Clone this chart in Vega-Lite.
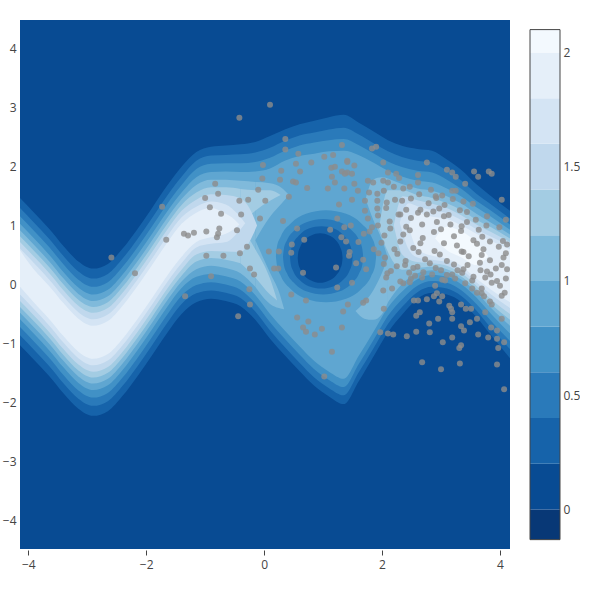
{
"$schema": "https://vega.github.io/schema/vega-lite/v6.json",
"background": "white",
"padding": {"left": 2, "top": 20, "right": 0, "bottom": 20},
"spacing": 20,
"bounds": "flush",
"config": {"view": {"stroke": null}, "axis": {"labelFont": "Open Sans", "labelFontSize": 12, "labelColor": "#444", "grid": false, "domain": false, "title": null}},
"datasets": {
"contour": [
{"k":"a2","g":"m","x":-4.14,"lo":-1.03,"hi":1.47},{"k":"a2","g":"m","x":-3.9,"lo":-1.28,"hi":1.22},{"k":"a2","g":"m","x":-3.65,"lo":-1.55,"hi":0.95},{"k":"a2","g":"m","x":-3.4,"lo":-1.85,"hi":0.65},{"k":"a2","g":"m","x":-3.15,"lo":-2.11,"hi":0.39},{"k":"a2","g":"m","x":-2.9,"lo":-2.23,"hi":0.27},{"k":"a2","g":"m","x":-2.65,"lo":-2.15,"hi":0.35},{"k":"a2","g":"m","x":-2.4,"lo":-1.89,"hi":0.61},{"k":"a2","g":"m","x":-2.15,"lo":-1.56,"hi":0.94},{"k":"a2","g":"m","x":-1.9,"lo":-1.2,"hi":1.3},{"k":"a2","g":"m","x":-1.65,"lo":-0.83,"hi":1.67},{"k":"a2","g":"m","x":-1.4,"lo":-0.5,"hi":2.0},{"k":"a2","g":"m","x":-1.15,"lo":-0.3,"hi":2.25},{"k":"a2","g":"m","x":-0.9,"lo":-0.24,"hi":2.34},{"k":"a2","g":"m","x":-0.65,"lo":-0.28,"hi":2.36},{"k":"a2","g":"m","x":-0.4,"lo":-0.37,"hi":2.38},{"k":"a2","g":"m","x":-0.15,"lo":-0.6,"hi":2.42},{"k":"a2","g":"m","x":0.1,"lo":-0.92,"hi":2.52},{"k":"a2","g":"m","x":0.35,"lo":-1.2,"hi":2.63},{"k":"a2","g":"m","x":0.6,"lo":-1.47,"hi":2.72},{"k":"a2","g":"m","x":0.85,"lo":-1.72,"hi":2.78},{"k":"a2","g":"m","x":1.1,"lo":-1.9,"hi":2.84},{"k":"a2","g":"m","x":1.35,"lo":-2.03,"hi":2.88},{"k":"a2","g":"m","x":1.6,"lo":-1.65,"hi":2.75},{"k":"a2","g":"m","x":1.85,"lo":-1.23,"hi":2.6},{"k":"a2","g":"m","x":2.1,"lo":-0.81,"hi":2.45},{"k":"a2","g":"m","x":2.35,"lo":-0.5,"hi":2.35},{"k":"a2","g":"m","x":2.6,"lo":-0.24,"hi":2.3},{"k":"a2","g":"m","x":2.85,"lo":-0.14,"hi":2.27},{"k":"a2","g":"m","x":3.1,"lo":-0.17,"hi":2.12},{"k":"a2","g":"m","x":3.35,"lo":-0.3,"hi":1.94},{"k":"a2","g":"m","x":3.6,"lo":-0.55,"hi":1.7},{"k":"a2","g":"m","x":3.85,"lo":-0.86,"hi":1.5},{"k":"a2","g":"m","x":4.17,"lo":-1.25,"hi":1.25},
{"k":"a4","g":"m","x":-4.14,"lo":-0.86,"hi":1.3},{"k":"a4","g":"m","x":-3.9,"lo":-1.11,"hi":1.05},{"k":"a4","g":"m","x":-3.65,"lo":-1.38,"hi":0.78},{"k":"a4","g":"m","x":-3.4,"lo":-1.68,"hi":0.48},{"k":"a4","g":"m","x":-3.15,"lo":-1.94,"hi":0.22},{"k":"a4","g":"m","x":-2.9,"lo":-2.06,"hi":0.1},{"k":"a4","g":"m","x":-2.65,"lo":-1.98,"hi":0.18},{"k":"a4","g":"m","x":-2.4,"lo":-1.72,"hi":0.44},{"k":"a4","g":"m","x":-2.15,"lo":-1.39,"hi":0.77},{"k":"a4","g":"m","x":-1.9,"lo":-1.03,"hi":1.13},{"k":"a4","g":"m","x":-1.65,"lo":-0.66,"hi":1.5},{"k":"a4","g":"m","x":-1.4,"lo":-0.33,"hi":1.83},{"k":"a4","g":"m","x":-1.15,"lo":-0.15,"hi":2.1},{"k":"a4","g":"m","x":-0.9,"lo":-0.1,"hi":2.19},{"k":"a4","g":"m","x":-0.65,"lo":-0.14,"hi":2.2},{"k":"a4","g":"m","x":-0.4,"lo":-0.23,"hi":2.21},{"k":"a4","g":"m","x":-0.15,"lo":-0.46,"hi":2.24},{"k":"a4","g":"m","x":0.1,"lo":-0.78,"hi":2.32},{"k":"a4","g":"m","x":0.35,"lo":-1.06,"hi":2.44},{"k":"a4","g":"m","x":0.6,"lo":-1.33,"hi":2.53},{"k":"a4","g":"m","x":0.85,"lo":-1.58,"hi":2.58},{"k":"a4","g":"m","x":1.1,"lo":-1.76,"hi":2.63},{"k":"a4","g":"m","x":1.35,"lo":-1.88,"hi":2.66},{"k":"a4","g":"m","x":1.6,"lo":-1.5,"hi":2.55},{"k":"a4","g":"m","x":1.85,"lo":-1.09,"hi":2.4},{"k":"a4","g":"m","x":2.1,"lo":-0.67,"hi":2.26},{"k":"a4","g":"m","x":2.35,"lo":-0.37,"hi":2.16},{"k":"a4","g":"m","x":2.6,"lo":-0.13,"hi":2.1},{"k":"a4","g":"m","x":2.85,"lo":-0.04,"hi":2.07},{"k":"a4","g":"m","x":3.1,"lo":-0.07,"hi":1.93},{"k":"a4","g":"m","x":3.35,"lo":-0.2,"hi":1.76},{"k":"a4","g":"m","x":3.6,"lo":-0.44,"hi":1.54},{"k":"a4","g":"m","x":3.85,"lo":-0.74,"hi":1.36},{"k":"a4","g":"m","x":4.17,"lo":-1.1,"hi":1.12},
{"k":"a6","g":"m","x":-4.14,"lo":-0.72,"hi":1.16},{"k":"a6","g":"m","x":-3.9,"lo":-0.97,"hi":0.91},{"k":"a6","g":"m","x":-3.65,"lo":-1.24,"hi":0.64},{"k":"a6","g":"m","x":-3.4,"lo":-1.54,"hi":0.34},{"k":"a6","g":"m","x":-3.15,"lo":-1.8,"hi":0.08},{"k":"a6","g":"m","x":-2.9,"lo":-1.92,"hi":-0.04},{"k":"a6","g":"m","x":-2.65,"lo":-1.84,"hi":0.04},{"k":"a6","g":"m","x":-2.4,"lo":-1.58,"hi":0.3},{"k":"a6","g":"m","x":-2.15,"lo":-1.25,"hi":0.63},{"k":"a6","g":"m","x":-1.9,"lo":-0.89,"hi":0.99},{"k":"a6","g":"m","x":-1.65,"lo":-0.52,"hi":1.36},{"k":"a6","g":"m","x":-1.4,"lo":-0.19,"hi":1.69},{"k":"a6","g":"m","x":-1.15,"lo":-0.01,"hi":1.96},{"k":"a6","g":"m","x":-0.9,"lo":0.04,"hi":2.05},{"k":"a6","g":"m","x":-0.65,"lo":0.0,"hi":2.06},{"k":"a6","g":"m","x":-0.4,"lo":-0.09,"hi":2.06},{"k":"a6","g":"m","x":-0.15,"lo":-0.32,"hi":2.08},{"k":"a6","g":"m","x":0.1,"lo":-0.64,"hi":2.15},{"k":"a6","g":"m","x":0.35,"lo":-0.92,"hi":2.27},{"k":"a6","g":"m","x":0.6,"lo":-1.19,"hi":2.36},{"k":"a6","g":"m","x":0.85,"lo":-1.44,"hi":2.41},{"k":"a6","g":"m","x":1.1,"lo":-1.62,"hi":2.45},{"k":"a6","g":"m","x":1.35,"lo":-1.74,"hi":2.47},{"k":"a6","g":"m","x":1.6,"lo":-1.36,"hi":2.37},{"k":"a6","g":"m","x":1.85,"lo":-0.95,"hi":2.23},{"k":"a6","g":"m","x":2.1,"lo":-0.53,"hi":2.09},{"k":"a6","g":"m","x":2.35,"lo":-0.24,"hi":1.99},{"k":"a6","g":"m","x":2.6,"lo":-0.02,"hi":1.93},{"k":"a6","g":"m","x":2.85,"lo":0.06,"hi":1.9},{"k":"a6","g":"m","x":3.1,"lo":0.03,"hi":1.78},{"k":"a6","g":"m","x":3.35,"lo":-0.1,"hi":1.62},{"k":"a6","g":"m","x":3.6,"lo":-0.33,"hi":1.42},{"k":"a6","g":"m","x":3.85,"lo":-0.62,"hi":1.25},{"k":"a6","g":"m","x":4.17,"lo":-0.96,"hi":1.02},
{"k":"a8","g":"m","x":-4.14,"lo":-0.59,"hi":1.03},{"k":"a8","g":"m","x":-3.9,"lo":-0.84,"hi":0.78},{"k":"a8","g":"m","x":-3.65,"lo":-1.11,"hi":0.51},{"k":"a8","g":"m","x":-3.4,"lo":-1.41,"hi":0.21},{"k":"a8","g":"m","x":-3.15,"lo":-1.67,"hi":-0.05},{"k":"a8","g":"m","x":-2.9,"lo":-1.79,"hi":-0.17},{"k":"a8","g":"m","x":-2.65,"lo":-1.71,"hi":-0.09},{"k":"a8","g":"m","x":-2.4,"lo":-1.45,"hi":0.17},{"k":"a8","g":"m","x":-2.15,"lo":-1.12,"hi":0.5},{"k":"a8","g":"m","x":-1.9,"lo":-0.76,"hi":0.86},{"k":"a8","g":"m","x":-1.65,"lo":-0.39,"hi":1.23},{"k":"a8","g":"m","x":-1.4,"lo":-0.06,"hi":1.56},{"k":"a8","g":"m","x":-1.15,"lo":0.13,"hi":1.82},{"k":"a8","g":"m","x":-0.9,"lo":0.18,"hi":1.91},{"k":"a8","g":"m","x":-0.65,"lo":0.14,"hi":1.92},{"k":"a8","g":"m","x":-0.4,"lo":0.05,"hi":1.91},{"k":"a8","g":"m","x":-0.15,"lo":-0.18,"hi":1.92},{"k":"a8","g":"m","x":0.1,"lo":-0.5,"hi":1.97},{"k":"a8","g":"m","x":0.35,"lo":-0.78,"hi":2.1},{"k":"a8","g":"m","x":0.6,"lo":-1.05,"hi":2.18},{"k":"a8","g":"m","x":0.85,"lo":-1.3,"hi":2.22},{"k":"a8","g":"m","x":1.1,"lo":-1.48,"hi":2.26},{"k":"a8","g":"m","x":1.35,"lo":-1.6,"hi":2.27},{"k":"a8","g":"m","x":1.6,"lo":-1.22,"hi":2.2},{"k":"a8","g":"m","x":1.85,"lo":-0.81,"hi":2.07},{"k":"a8","g":"m","x":2.1,"lo":-0.39,"hi":1.93},{"k":"a8","g":"m","x":2.35,"lo":-0.11,"hi":1.83},{"k":"a8","g":"m","x":2.6,"lo":0.09,"hi":1.76},{"k":"a8","g":"m","x":2.85,"lo":0.16,"hi":1.73},{"k":"a8","g":"m","x":3.1,"lo":0.13,"hi":1.63},{"k":"a8","g":"m","x":3.35,"lo":0.0,"hi":1.49},{"k":"a8","g":"m","x":3.6,"lo":-0.22,"hi":1.31},{"k":"a8","g":"m","x":3.85,"lo":-0.5,"hi":1.15},{"k":"a8","g":"m","x":4.17,"lo":-0.83,"hi":0.93},
{"k":"a10","g":"m","x":-4.14,"lo":-0.48,"hi":0.92},{"k":"a10","g":"m","x":-3.9,"lo":-0.73,"hi":0.67},{"k":"a10","g":"m","x":-3.65,"lo":-1.0,"hi":0.4},{"k":"a10","g":"m","x":-3.4,"lo":-1.3,"hi":0.1},{"k":"a10","g":"m","x":-3.15,"lo":-1.56,"hi":-0.16},{"k":"a10","g":"m","x":-2.9,"lo":-1.68,"hi":-0.28},{"k":"a10","g":"m","x":-2.65,"lo":-1.6,"hi":-0.2},{"k":"a10","g":"m","x":-2.4,"lo":-1.34,"hi":0.06},{"k":"a10","g":"m","x":-2.15,"lo":-1.01,"hi":0.39},{"k":"a10","g":"m","x":-1.9,"lo":-0.65,"hi":0.75},{"k":"a10","g":"m","x":-1.65,"lo":-0.28,"hi":1.12},{"k":"a10","g":"m","x":-1.4,"lo":0.05,"hi":1.45},{"k":"a10","g":"m","x":-1.15,"lo":0.26,"hi":1.69},{"k":"a10","g":"m","x":-0.9,"lo":0.32,"hi":1.78},{"k":"a10","g":"m","x":-0.65,"lo":0.28,"hi":1.78},{"k":"a10","g":"m","x":-0.4,"lo":0.19,"hi":1.76},{"k":"a10","g":"m","x":-0.15,"lo":-0.04,"hi":1.74},
{"k":"a10","g":"a","x":-0.15,"lo":0.75,"hi":1.74},{"k":"a10","g":"a","x":0.1,"lo":1.15,"hi":1.72},{"k":"a10","g":"a","x":0.3,"lo":1.38,"hi":1.64},{"k":"a10","g":"a","x":0.42,"lo":1.52,"hi":1.52},
{"k":"a10","g":"t","x":-0.15,"lo":-0.04,"hi":0.75},{"k":"a10","g":"t","x":0.1,"lo":-0.33,"hi":0.2},{"k":"a10","g":"t","x":0.25,"lo":-0.4,"hi":-0.12},{"k":"a10","g":"t","x":0.34,"lo":-0.42,"hi":-0.42},
{"k":"a10","g":"rf","x":1.55,"lo":-0.45,"hi":-0.45},{"k":"a10","g":"rf","x":1.7,"lo":-0.58,"hi":-0.3},{"k":"a10","g":"rf","x":1.85,"lo":-0.6,"hi":-0.1},{"k":"a10","g":"rf","x":2.0,"lo":-0.5,"hi":0.2},{"k":"a10","g":"rf","x":2.1,"lo":-0.3,"hi":0.45},
{"k":"a10","g":"ra","x":1.72,"lo":1.45,"hi":1.45},{"k":"a10","g":"ra","x":1.85,"lo":1.1,"hi":1.78},{"k":"a10","g":"ra","x":2.0,"lo":0.75,"hi":1.82},{"k":"a10","g":"ra","x":2.1,"lo":0.45,"hi":1.8},
{"k":"a10","g":"r","x":2.1,"lo":-0.3,"hi":1.8},{"k":"a10","g":"r","x":2.35,"lo":0.02,"hi":1.7},{"k":"a10","g":"r","x":2.6,"lo":0.19,"hi":1.63},{"k":"a10","g":"r","x":2.85,"lo":0.24,"hi":1.59},{"k":"a10","g":"r","x":3.1,"lo":0.21,"hi":1.5},{"k":"a10","g":"r","x":3.35,"lo":0.08,"hi":1.37},{"k":"a10","g":"r","x":3.6,"lo":-0.13,"hi":1.2},{"k":"a10","g":"r","x":3.85,"lo":-0.4,"hi":1.05},{"k":"a10","g":"r","x":4.17,"lo":-0.7,"hi":0.85},
{"k":"a12","g":"m","x":-4.14,"lo":-0.38,"hi":0.82},{"k":"a12","g":"m","x":-3.9,"lo":-0.63,"hi":0.57},{"k":"a12","g":"m","x":-3.65,"lo":-0.9,"hi":0.3},{"k":"a12","g":"m","x":-3.4,"lo":-1.2,"hi":0.0},{"k":"a12","g":"m","x":-3.15,"lo":-1.46,"hi":-0.26},{"k":"a12","g":"m","x":-2.9,"lo":-1.58,"hi":-0.38},{"k":"a12","g":"m","x":-2.65,"lo":-1.5,"hi":-0.3},{"k":"a12","g":"m","x":-2.4,"lo":-1.24,"hi":-0.04},{"k":"a12","g":"m","x":-2.15,"lo":-0.91,"hi":0.29},{"k":"a12","g":"m","x":-1.9,"lo":-0.55,"hi":0.65},{"k":"a12","g":"m","x":-1.65,"lo":-0.18,"hi":1.02},{"k":"a12","g":"m","x":-1.4,"lo":0.15,"hi":1.35},{"k":"a12","g":"m","x":-1.15,"lo":0.39,"hi":1.56},{"k":"a12","g":"m","x":-0.9,"lo":0.45,"hi":1.65},{"k":"a12","g":"m","x":-0.65,"lo":0.42,"hi":1.65},{"k":"a12","g":"m","x":-0.4,"lo":0.36,"hi":1.62},
{"k":"a12","g":"a","x":-0.4,"lo":1.0,"hi":1.62},{"k":"a12","g":"a","x":-0.15,"lo":1.25,"hi":1.6},{"k":"a12","g":"a","x":0.1,"lo":1.42,"hi":1.6},{"k":"a12","g":"a","x":0.28,"lo":1.52,"hi":1.52},
{"k":"a12","g":"t","x":-0.4,"lo":0.36,"hi":1.0},{"k":"a12","g":"t","x":-0.15,"lo":0.12,"hi":0.6},{"k":"a12","g":"t","x":0.1,"lo":-0.17,"hi":0.1},{"k":"a12","g":"t","x":0.22,"lo":-0.27,"hi":-0.27},
{"k":"a12","g":"r","x":1.95,"lo":0.95,"hi":0.95},{"k":"a12","g":"r","x":2.1,"lo":0.55,"hi":1.6},{"k":"a12","g":"r","x":2.35,"lo":0.25,"hi":1.6},{"k":"a12","g":"r","x":2.6,"lo":0.28,"hi":1.52},{"k":"a12","g":"r","x":2.85,"lo":0.3,"hi":1.47},{"k":"a12","g":"r","x":3.1,"lo":0.26,"hi":1.38},{"k":"a12","g":"r","x":3.35,"lo":0.13,"hi":1.26},{"k":"a12","g":"r","x":3.6,"lo":-0.08,"hi":1.1},{"k":"a12","g":"r","x":3.85,"lo":-0.33,"hi":0.97},{"k":"a12","g":"r","x":4.17,"lo":-0.6,"hi":0.78},
{"k":"a14","g":"m","x":-4.14,"lo":-0.28,"hi":0.72},{"k":"a14","g":"m","x":-3.9,"lo":-0.53,"hi":0.47},{"k":"a14","g":"m","x":-3.65,"lo":-0.8,"hi":0.2},{"k":"a14","g":"m","x":-3.4,"lo":-1.1,"hi":-0.1},{"k":"a14","g":"m","x":-3.15,"lo":-1.36,"hi":-0.36},{"k":"a14","g":"m","x":-2.9,"lo":-1.48,"hi":-0.48},{"k":"a14","g":"m","x":-2.65,"lo":-1.4,"hi":-0.4},{"k":"a14","g":"m","x":-2.4,"lo":-1.14,"hi":-0.14},{"k":"a14","g":"m","x":-2.15,"lo":-0.81,"hi":0.19},{"k":"a14","g":"m","x":-1.9,"lo":-0.45,"hi":0.55},{"k":"a14","g":"m","x":-1.65,"lo":-0.08,"hi":0.92},{"k":"a14","g":"m","x":-1.4,"lo":0.25,"hi":1.25},{"k":"a14","g":"m","x":-1.15,"lo":0.51,"hi":1.44},{"k":"a14","g":"m","x":-0.9,"lo":0.57,"hi":1.53},{"k":"a14","g":"m","x":-0.65,"lo":0.56,"hi":1.52},{"k":"a14","g":"m","x":-0.4,"lo":0.55,"hi":1.46},{"k":"a14","g":"m","x":-0.25,"lo":0.72,"hi":1.3},{"k":"a14","g":"m","x":-0.12,"lo":1.0,"hi":1.0},
{"k":"a14","g":"r","x":2.2,"lo":1.0,"hi":1.0},{"k":"a14","g":"r","x":2.35,"lo":0.5,"hi":1.5},{"k":"a14","g":"r","x":2.6,"lo":0.38,"hi":1.43},{"k":"a14","g":"r","x":2.85,"lo":0.36,"hi":1.37},{"k":"a14","g":"r","x":3.1,"lo":0.32,"hi":1.3},{"k":"a14","g":"r","x":3.35,"lo":0.19,"hi":1.17},{"k":"a14","g":"r","x":3.6,"lo":-0.02,"hi":1.02},{"k":"a14","g":"r","x":3.85,"lo":-0.25,"hi":0.89},{"k":"a14","g":"r","x":4.17,"lo":-0.5,"hi":0.72},
{"k":"a16","g":"m","x":-4.14,"lo":-0.17,"hi":0.61},{"k":"a16","g":"m","x":-3.9,"lo":-0.42,"hi":0.36},{"k":"a16","g":"m","x":-3.65,"lo":-0.69,"hi":0.09},{"k":"a16","g":"m","x":-3.4,"lo":-0.99,"hi":-0.21},{"k":"a16","g":"m","x":-3.15,"lo":-1.25,"hi":-0.47},{"k":"a16","g":"m","x":-2.9,"lo":-1.37,"hi":-0.59},{"k":"a16","g":"m","x":-2.65,"lo":-1.29,"hi":-0.51},{"k":"a16","g":"m","x":-2.4,"lo":-1.03,"hi":-0.25},{"k":"a16","g":"m","x":-2.15,"lo":-0.7,"hi":0.08},{"k":"a16","g":"m","x":-1.9,"lo":-0.34,"hi":0.44},{"k":"a16","g":"m","x":-1.65,"lo":0.03,"hi":0.81},{"k":"a16","g":"m","x":-1.4,"lo":0.36,"hi":1.14},{"k":"a16","g":"m","x":-1.15,"lo":0.63,"hi":1.32},{"k":"a16","g":"m","x":-0.9,"lo":0.69,"hi":1.41},{"k":"a16","g":"m","x":-0.65,"lo":0.72,"hi":1.36},{"k":"a16","g":"m","x":-0.45,"lo":0.88,"hi":1.2},{"k":"a16","g":"m","x":-0.32,"lo":1.04,"hi":1.04},
{"k":"a16","g":"r","x":2.3,"lo":1.05,"hi":1.05},{"k":"a16","g":"r","x":2.45,"lo":0.6,"hi":1.38},{"k":"a16","g":"r","x":2.6,"lo":0.46,"hi":1.33},{"k":"a16","g":"r","x":2.85,"lo":0.42,"hi":1.26},{"k":"a16","g":"r","x":3.1,"lo":0.38,"hi":1.21},{"k":"a16","g":"r","x":3.35,"lo":0.25,"hi":1.09},{"k":"a16","g":"r","x":3.6,"lo":0.04,"hi":0.94},{"k":"a16","g":"r","x":3.85,"lo":-0.17,"hi":0.81},{"k":"a16","g":"r","x":4.17,"lo":-0.4,"hi":0.66},
{"k":"a18","g":"m","x":-4.14,"lo":-0.04,"hi":0.58},{"k":"a18","g":"m","x":-3.9,"lo":-0.31,"hi":0.25},{"k":"a18","g":"m","x":-3.65,"lo":-0.58,"hi":-0.02},{"k":"a18","g":"m","x":-3.4,"lo":-0.88,"hi":-0.32},{"k":"a18","g":"m","x":-3.15,"lo":-1.14,"hi":-0.58},{"k":"a18","g":"m","x":-2.9,"lo":-1.26,"hi":-0.7},{"k":"a18","g":"m","x":-2.65,"lo":-1.18,"hi":-0.62},{"k":"a18","g":"m","x":-2.4,"lo":-0.92,"hi":-0.36},{"k":"a18","g":"m","x":-2.15,"lo":-0.59,"hi":-0.03},{"k":"a18","g":"m","x":-1.9,"lo":-0.23,"hi":0.33},{"k":"a18","g":"m","x":-1.65,"lo":0.14,"hi":0.7},{"k":"a18","g":"m","x":-1.4,"lo":0.47,"hi":1.03},{"k":"a18","g":"m","x":-1.15,"lo":0.72,"hi":1.22},{"k":"a18","g":"m","x":-0.9,"lo":0.8,"hi":1.3},{"k":"a18","g":"m","x":-0.65,"lo":0.86,"hi":1.2},{"k":"a18","g":"m","x":-0.5,"lo":0.95,"hi":1.1},{"k":"a18","g":"m","x":-0.42,"lo":1.02,"hi":1.02},
{"k":"a18","g":"r","x":2.45,"lo":1.0,"hi":1.0},{"k":"a18","g":"r","x":2.6,"lo":0.6,"hi":1.22},{"k":"a18","g":"r","x":2.85,"lo":0.49,"hi":1.15},{"k":"a18","g":"r","x":3.1,"lo":0.44,"hi":1.11},{"k":"a18","g":"r","x":3.35,"lo":0.31,"hi":1.0},{"k":"a18","g":"r","x":3.6,"lo":0.1,"hi":0.86},{"k":"a18","g":"r","x":3.85,"lo":-0.09,"hi":0.74},{"k":"a18","g":"r","x":4.17,"lo":-0.3,"hi":0.6},
{"k":"a20","g":"r","x":2.9,"lo":0.78,"hi":0.78},{"k":"a20","g":"r","x":3.1,"lo":0.58,"hi":0.98},{"k":"a20","g":"r","x":3.35,"lo":0.46,"hi":0.9},{"k":"a20","g":"r","x":3.6,"lo":0.33,"hi":0.72},{"k":"a20","g":"r","x":3.8,"lo":0.48,"hi":0.48},
{"k":"h8","g":"m","x":0.2,"lo":0.48,"hi":0.48},{"k":"h8","g":"m","x":0.217,"lo":0.325,"hi":0.635},{"k":"h8","g":"m","x":0.285,"lo":0.14,"hi":0.82},{"k":"h8","g":"m","x":0.455,"lo":-0.08,"hi":1.04},{"k":"h8","g":"m","x":0.71,"lo":-0.24,"hi":1.2},{"k":"h8","g":"m","x":1.05,"lo":-0.3,"hi":1.26},{"k":"h8","g":"m","x":1.39,"lo":-0.24,"hi":1.2},{"k":"h8","g":"m","x":1.645,"lo":-0.08,"hi":1.04},{"k":"h8","g":"m","x":1.815,"lo":0.14,"hi":0.82},{"k":"h8","g":"m","x":1.883,"lo":0.325,"hi":0.635},{"k":"h8","g":"m","x":1.9,"lo":0.48,"hi":0.48},
{"k":"h6","g":"m","x":0.32,"lo":0.47,"hi":0.47},{"k":"h6","g":"m","x":0.334,"lo":0.34,"hi":0.6},{"k":"h6","g":"m","x":0.388,"lo":0.19,"hi":0.75},{"k":"h6","g":"m","x":0.524,"lo":0.01,"hi":0.93},{"k":"h6","g":"m","x":0.728,"lo":-0.12,"hi":1.06},{"k":"h6","g":"m","x":1.0,"lo":-0.17,"hi":1.11},{"k":"h6","g":"m","x":1.272,"lo":-0.12,"hi":1.06},{"k":"h6","g":"m","x":1.476,"lo":0.01,"hi":0.93},{"k":"h6","g":"m","x":1.612,"lo":0.19,"hi":0.75},{"k":"h6","g":"m","x":1.666,"lo":0.34,"hi":0.6},{"k":"h6","g":"m","x":1.68,"lo":0.47,"hi":0.47},
{"k":"h4","g":"m","x":0.44,"lo":0.46,"hi":0.46},{"k":"h4","g":"m","x":0.451,"lo":0.355,"hi":0.565},{"k":"h4","g":"m","x":0.493,"lo":0.23,"hi":0.69},{"k":"h4","g":"m","x":0.599,"lo":0.08,"hi":0.84},{"k":"h4","g":"m","x":0.758,"lo":-0.03,"hi":0.95},{"k":"h4","g":"m","x":0.97,"lo":-0.07,"hi":0.99},{"k":"h4","g":"m","x":1.182,"lo":-0.03,"hi":0.95},{"k":"h4","g":"m","x":1.341,"lo":0.08,"hi":0.84},{"k":"h4","g":"m","x":1.447,"lo":0.23,"hi":0.69},{"k":"h4","g":"m","x":1.489,"lo":0.355,"hi":0.565},{"k":"h4","g":"m","x":1.5,"lo":0.46,"hi":0.46},
{"k":"h2","g":"m","x":0.57,"lo":0.45,"hi":0.45},{"k":"h2","g":"m","x":0.578,"lo":0.37,"hi":0.53},{"k":"h2","g":"m","x":0.608,"lo":0.27,"hi":0.63},{"k":"h2","g":"m","x":0.684,"lo":0.15,"hi":0.75},{"k":"h2","g":"m","x":0.798,"lo":0.07,"hi":0.83},{"k":"h2","g":"m","x":0.95,"lo":0.03,"hi":0.87},{"k":"h2","g":"m","x":1.102,"lo":0.07,"hi":0.83},{"k":"h2","g":"m","x":1.216,"lo":0.15,"hi":0.75},{"k":"h2","g":"m","x":1.292,"lo":0.27,"hi":0.63},{"k":"h2","g":"m","x":1.322,"lo":0.37,"hi":0.53},{"k":"h2","g":"m","x":1.33,"lo":0.45,"hi":0.45}
],
"pts": [
{"x":-2.59,"y":0.46},{"x":-2.19,"y":0.19},{"x":-1.73,"y":1.32},{"x":-1.66,"y":0.76},{"x":-1.34,"y":-0.2},{"x":-1.36,"y":0.86},{"x":-1.0,"y":1.47},{"x":-0.83,"y":1.71},{"x":-0.78,"y":1.54},{"x":-0.92,"y":1.31},{"x":-0.73,"y":1.2},{"x":-0.39,"y":1.19},{"x":-0.76,"y":0.95},{"x":-0.46,"y":0.92},{"x":-0.78,"y":0.86},{"x":-0.8,"y":0.8},{"x":-1.29,"y":0.83},{"x":-1.19,"y":0.88},{"x":-0.98,"y":0.9},{"x":-0.98,"y":0.49},{"x":-0.69,"y":0.49},{"x":-0.41,"y":0.53},{"x":-0.29,"y":0.64},{"x":-0.42,"y":1.42},{"x":-0.27,"y":1.44},{"x":-0.02,"y":2.03},{"x":-0.03,"y":1.8},{"x":-0.1,"y":1.61},{"x":0.02,"y":1.42},{"x":-0.07,"y":1.12},{"x":-0.42,"y":2.83},{"x":0.1,"y":3.05},{"x":0.36,"y":2.47},{"x":0.36,"y":2.29},{"x":0.58,"y":2.22},{"x":1.02,"y":2.17},{"x":1.17,"y":2.2},{"x":1.32,"y":2.37},{"x":0.54,"y":2.05},{"x":0.8,"y":2.07},{"x":1.14,"y":1.98},{"x":1.2,"y":2.0},{"x":1.41,"y":2.08},{"x":1.32,"y":1.92},{"x":1.41,"y":1.9},{"x":0.29,"y":1.93},{"x":0.61,"y":1.92},{"x":1.15,"y":1.83},{"x":0.27,"y":1.78},{"x":0.49,"y":1.75},{"x":0.54,"y":1.73},{"x":1.2,"y":1.73},{"x":0.73,"y":1.64},{"x":1.08,"y":1.63},{"x":1.36,"y":1.63},{"x":0.42,"y":1.49},{"x":1.27,"y":1.36},{"x":0.32,"y":1.08},{"x":1.24,"y":1.12},{"x":0.56,"y":0.95},{"x":1.12,"y":0.93},{"x":1.36,"y":0.97},{"x":0.68,"y":0.76},{"x":1.31,"y":0.8},{"x":1.39,"y":0.73},{"x":0.47,"y":0.68},{"x":0.08,"y":0.56},{"x":0.25,"y":0.56},{"x":0.46,"y":0.54},{"x":1.44,"y":0.49},{"x":-0.24,"y":0.27},{"x":0.17,"y":0.27},{"x":0.24,"y":0.27},{"x":1.22,"y":0.29},{"x":-0.17,"y":0.17},{"x":0.66,"y":0.2},{"x":-0.9,"y":0.14},{"x":-0.25,"y":-0.08},{"x":-0.24,"y":-0.34},{"x":-0.44,"y":-0.54},{"x":0.46,"y":-0.17},{"x":0.71,"y":-0.27},{"x":1.24,"y":-0.05},{"x":1.42,"y":-0.34},{"x":1.34,"y":-0.46},{"x":0.56,"y":-0.56},{"x":0.75,"y":-0.63},{"x":0.66,"y":-0.73},{"x":0.71,"y":-0.8},{"x":0.98,"y":-0.75},{"x":0.86,"y":-0.85},{"x":1.32,"y":-0.73},{"x":1.15,"y":-1.14},{"x":1.02,"y":-1.56},
{"x":1.49,"y":0.03},{"x":1.68,"y":-0.31},{"x":1.73,"y":-0.27},{"x":2.03,"y":-0.41},{"x":1.97,"y":-0.81},{"x":2.1,"y":-0.83},{"x":2.19,"y":-0.85},{"x":2.42,"y":-0.88},{"x":2.58,"y":-0.8},{"x":2.81,"y":-0.81},{"x":2.58,"y":-0.53},{"x":2.64,"y":-0.47},{"x":2.95,"y":-0.58},{"x":3.19,"y":-0.58},{"x":2.8,"y":-0.66},{"x":3.03,"y":-0.98},{"x":3.19,"y":-0.9},{"x":3.34,"y":-1.03},{"x":3.31,"y":-1.08},{"x":3.39,"y":-0.78},{"x":3.34,"y":-0.71},{"x":3.49,"y":-0.64},{"x":3.63,"y":-0.85},{"x":3.8,"y":-0.9},{"x":3.95,"y":-0.92},{"x":3.97,"y":-1.08},{"x":2.68,"y":-1.32},{"x":3.0,"y":-1.44},{"x":3.32,"y":-1.34},{"x":3.95,"y":-1.36},{"x":4.07,"y":-1.78},{"x":2.54,"y":-0.27},{"x":2.61,"y":-0.27},{"x":2.76,"y":-0.25},{"x":2.88,"y":-0.2},{"x":2.93,"y":-0.15},{"x":3.02,"y":-0.2},{"x":2.97,"y":-0.29},{"x":3.14,"y":-0.36},{"x":3.17,"y":-0.41},{"x":3.19,"y":-0.47},{"x":3.34,"y":-0.34},{"x":3.42,"y":-0.41},{"x":3.51,"y":-0.41},{"x":3.61,"y":-0.58},{"x":3.75,"y":-0.47},{"x":3.85,"y":-0.73},{"x":3.95,"y":-0.78},{"x":4.07,"y":-0.98},{"x":3.69,"y":-0.15},{"x":3.73,"y":-0.2},{"x":3.83,"y":-0.29},{"x":3.86,"y":-0.34},{"x":4.03,"y":-0.58},
{"x":2.09,"y":0.19},{"x":2.25,"y":0.31},{"x":2.46,"y":0.2},{"x":2.6,"y":0.3},{"x":2.7,"y":0.21},{"x":2.91,"y":0.28},{"x":3.1,"y":0.16},{"x":3.28,"y":0.24},{"x":3.45,"y":0.33},{"x":3.55,"y":0.13},{"x":3.67,"y":0.24},{"x":3.84,"y":0.17},{"x":3.93,"y":0.27},{"x":4.1,"y":0.1},{"x":2.02,"y":-0.1},{"x":2.17,"y":-0.07},{"x":2.36,"y":0.02},{"x":2.49,"y":0.1},{"x":2.56,"y":0.15},{"x":2.9,"y":-0.02},{"x":3.07,"y":0.07},{"x":3.24,"y":0.1},{"x":3.41,"y":0.02},{"x":3.53,"y":-0.07},{"x":3.61,"y":-0.14},{"x":3.69,"y":-0.07},{"x":3.86,"y":0.03},{"x":4.0,"y":-0.02},{"x":4.08,"y":-0.14},{"x":2.07,"y":0.12},{"x":2.31,"y":0.05},{"x":2.47,"y":0.04},{"x":2.68,"y":0.12},{"x":2.85,"y":0.17},{"x":3.02,"y":0.08},{"x":3.19,"y":0.17},{"x":3.36,"y":0.2},{"x":3.53,"y":0.07},{"x":3.75,"y":0.12},{"x":3.95,"y":0.06},{"x":4.03,"y":-0.19},
{"x":1.83,"y":2.31},{"x":1.9,"y":2.34},{"x":2.02,"y":2.07},{"x":2.76,"y":2.07},{"x":2.1,"y":1.9},{"x":2.24,"y":1.88},{"x":2.29,"y":1.81},{"x":2.61,"y":1.86},{"x":3.1,"y":1.95},{"x":3.19,"y":1.9},{"x":3.25,"y":1.83},{"x":3.56,"y":1.92},{"x":3.63,"y":1.83},{"x":3.81,"y":1.92},{"x":3.86,"y":1.88},{"x":4.03,"y":1.44},{"x":1.41,"y":2.1},{"x":1.53,"y":2.02},{"x":1.37,"y":1.88},{"x":1.49,"y":1.88},{"x":1.76,"y":1.76},{"x":1.85,"y":1.73},{"x":2.02,"y":1.76},{"x":2.1,"y":1.73},{"x":2.2,"y":1.66},{"x":2.36,"y":1.63},{"x":2.47,"y":1.66},{"x":2.61,"y":1.73},{"x":2.83,"y":1.61},{"x":2.92,"y":1.47},{"x":3.02,"y":1.51},{"x":3.19,"y":1.59},{"x":3.25,"y":1.59},{"x":3.41,"y":1.71},{"x":3.54,"y":1.37},{"x":1.53,"y":1.71},{"x":1.59,"y":1.59},{"x":1.78,"y":1.56},{"x":1.92,"y":1.54},{"x":2.03,"y":1.59},{"x":1.49,"y":1.44},{"x":1.71,"y":1.42},{"x":1.92,"y":1.42},{"x":2.08,"y":1.39},{"x":2.22,"y":1.44},{"x":2.34,"y":1.42},
{"x":2.49,"y":1.46},{"x":2.63,"y":1.53},{"x":2.79,"y":1.38},{"x":2.91,"y":1.5},{"x":3.06,"y":1.35},{"x":3.2,"y":1.45},{"x":3.38,"y":1.41},
{"x":2.07,"y":1.3},{"x":2.31,"y":1.19},{"x":2.41,"y":1.27},{"x":2.61,"y":1.22},{"x":2.65,"y":1.27},{"x":2.87,"y":1.24},{"x":2.97,"y":1.29},{"x":3.13,"y":1.18},{"x":3.32,"y":1.26},{"x":3.44,"y":1.23},{"x":3.59,"y":1.1},{"x":3.78,"y":1.16},
{"x":1.71,"y":1.25},{"x":1.92,"y":1.29},{"x":1.93,"y":1.17},{"x":1.76,"y":1.12},{"x":1.83,"y":0.97},{"x":1.93,"y":1.0},
{"x":2.13,"y":1.07},{"x":2.28,"y":1.19},{"x":2.41,"y":0.98},{"x":2.49,"y":1.13},{"x":2.68,"y":1.02},{"x":2.76,"y":1.19},{"x":2.93,"y":1.06},{"x":3.05,"y":1.16},{"x":3.16,"y":1.02},{"x":3.35,"y":0.99},{"x":3.44,"y":1.06},{"x":3.64,"y":0.93},{"x":3.77,"y":1.0},{"x":3.99,"y":0.97},{"x":4.1,"y":1.1},
{"x":1.47,"y":1.0},{"x":1.69,"y":0.86},{"x":1.79,"y":0.9},{"x":2.04,"y":0.83},{"x":2.14,"y":0.95},{"x":2.36,"y":0.85},{"x":2.47,"y":0.92},{"x":2.69,"y":0.79},{"x":2.88,"y":0.89},{"x":3.0,"y":0.94},{"x":3.22,"y":0.82},{"x":3.34,"y":0.91},{"x":3.55,"y":0.75},{"x":3.7,"y":0.81},{"x":3.83,"y":0.73},{"x":4.05,"y":0.74},{"x":4.12,"y":0.68},
{"x":1.6,"y":0.72},{"x":1.86,"y":0.6},{"x":1.99,"y":0.71},{"x":2.21,"y":0.6},{"x":2.31,"y":0.73},{"x":2.53,"y":0.62},{"x":2.65,"y":0.7},{"x":2.89,"y":0.57},{"x":3.05,"y":0.7},{"x":3.27,"y":0.66},{"x":3.38,"y":0.55},{"x":3.61,"y":0.69},{"x":3.72,"y":0.6},{"x":3.98,"y":0.64},{"x":4.1,"y":0.53},
{"x":1.45,"y":0.55},{"x":1.68,"y":0.42},{"x":1.94,"y":0.53},{"x":2.05,"y":0.46},{"x":2.26,"y":0.52},{"x":2.4,"y":0.4},{"x":2.62,"y":0.55},{"x":2.73,"y":0.43},{"x":2.98,"y":0.51},{"x":3.1,"y":0.4},{"x":3.35,"y":0.56},{"x":3.47,"y":0.48},{"x":3.69,"y":0.5},{"x":3.83,"y":0.41},{"x":4.06,"y":0.46},
{"x":1.56,"y":0.36},{"x":1.73,"y":0.26},{"x":2.03,"y":0.35},{"x":2.15,"y":0.23},{"x":2.39,"y":0.33},{"x":2.53,"y":0.28},{"x":2.81,"y":0.36},{"x":3.0,"y":0.24},{"x":3.22,"y":0.34},{"x":3.38,"y":0.26},{"x":3.66,"y":0.37},{"x":3.78,"y":0.22},{"x":4.03,"y":0.33},{"x":4.12,"y":0.26}
],
"bar": [
{"lv":-1,"lo":-0.132,"hi":0},{"lv":0,"lo":0,"hi":0.2},{"lv":1,"lo":0.2,"hi":0.4},{"lv":2,"lo":0.4,"hi":0.6},{"lv":3,"lo":0.6,"hi":0.8},{"lv":4,"lo":0.8,"hi":1.0},{"lv":5,"lo":1.0,"hi":1.2},{"lv":6,"lo":1.2,"hi":1.4},{"lv":7,"lo":1.4,"hi":1.6},{"lv":8,"lo":1.6,"hi":1.8},{"lv":9,"lo":1.8,"hi":2.0},{"lv":10,"lo":2.0,"hi":2.1}
],
"box": [{"lo":-0.132,"hi":2.1}]
},
"hconcat": [
{
"width": 490, "height": 529,
"view": {"fill": "#084b93", "stroke": null},
"encoding": {
"x": {"field": "x", "type": "quantitative", "scale": {"domain": [-4.14, 4.17], "nice": false, "zero": false}, "axis": {"values": [-4, -2, 0, 2, 4], "tickSize": 5, "tickColor": "#444", "labelPadding": 4, "offset": 1, "title": null}},
"y": {"field": "lo", "type": "quantitative", "scale": {"domain": [-4.49, 4.49], "nice": false, "zero": false}, "axis": {"values": [-4, -3, -2, -1, 0, 1, 2, 3, 4], "tickSize": 0, "labelPadding": 4, "title": null}}
},
"layer": [
{"data": {"name": "contour"}, "transform": [{"filter": {"field": "k", "equal": "a2"}}], "mark": {"type": "area", "interpolate": "monotone", "color": "#1663aa", "clip": true}, "encoding": {"y2": {"field": "hi"}, "detail": {"field": "g"}}},
{"data": {"name": "contour"}, "transform": [{"filter": {"field": "k", "equal": "a4"}}], "mark": {"type": "area", "interpolate": "monotone", "color": "#2a7aba", "clip": true}, "encoding": {"y2": {"field": "hi"}, "detail": {"field": "g"}}},
{"data": {"name": "contour"}, "transform": [{"filter": {"field": "k", "equal": "a6"}}], "mark": {"type": "area", "interpolate": "monotone", "color": "#4191c6", "clip": true}, "encoding": {"y2": {"field": "hi"}, "detail": {"field": "g"}}},
{"data": {"name": "contour"}, "transform": [{"filter": {"field": "k", "equal": "a8"}}], "mark": {"type": "area", "interpolate": "monotone", "color": "#5fa6d1", "clip": true}, "encoding": {"y2": {"field": "hi"}, "detail": {"field": "g"}}},
{"data": {"name": "contour"}, "transform": [{"filter": {"field": "k", "equal": "a10"}}], "mark": {"type": "area", "interpolate": "monotone", "color": "#80badb", "clip": true}, "encoding": {"y2": {"field": "hi"}, "detail": {"field": "g"}}},
{"data": {"name": "contour"}, "transform": [{"filter": {"field": "k", "equal": "a12"}}], "mark": {"type": "area", "interpolate": "monotone", "color": "#a3cce3", "clip": true}, "encoding": {"y2": {"field": "hi"}, "detail": {"field": "g"}}},
{"data": {"name": "contour"}, "transform": [{"filter": {"field": "k", "equal": "a14"}}], "mark": {"type": "area", "interpolate": "monotone", "color": "#c0d8ed", "clip": true}, "encoding": {"y2": {"field": "hi"}, "detail": {"field": "g"}}},
{"data": {"name": "contour"}, "transform": [{"filter": {"field": "k", "equal": "a16"}}], "mark": {"type": "area", "interpolate": "monotone", "color": "#d4e4f4", "clip": true}, "encoding": {"y2": {"field": "hi"}, "detail": {"field": "g"}}},
{"data": {"name": "contour"}, "transform": [{"filter": {"field": "k", "equal": "a18"}}], "mark": {"type": "area", "interpolate": "monotone", "color": "#e5eff9", "clip": true}, "encoding": {"y2": {"field": "hi"}, "detail": {"field": "g"}}},
{"data": {"name": "contour"}, "transform": [{"filter": {"field": "k", "equal": "a20"}}], "mark": {"type": "area", "interpolate": "monotone", "color": "#f3f9fe", "clip": true}, "encoding": {"y2": {"field": "hi"}, "detail": {"field": "g"}}},
{"data": {"name": "contour"}, "transform": [{"filter": {"field": "k", "equal": "h8"}}], "mark": {"type": "area", "interpolate": "monotone", "color": "#4191c6", "clip": true}, "encoding": {"y2": {"field": "hi"}, "detail": {"field": "g"}}},
{"data": {"name": "contour"}, "transform": [{"filter": {"field": "k", "equal": "h6"}}], "mark": {"type": "area", "interpolate": "monotone", "color": "#2a7aba", "clip": true}, "encoding": {"y2": {"field": "hi"}, "detail": {"field": "g"}}},
{"data": {"name": "contour"}, "transform": [{"filter": {"field": "k", "equal": "h4"}}], "mark": {"type": "area", "interpolate": "monotone", "color": "#1663aa", "clip": true}, "encoding": {"y2": {"field": "hi"}, "detail": {"field": "g"}}},
{"data": {"name": "contour"}, "transform": [{"filter": {"field": "k", "equal": "h2"}}], "mark": {"type": "area", "interpolate": "monotone", "color": "#084b93", "clip": true}, "encoding": {"y2": {"field": "hi"}, "detail": {"field": "g"}}},
{"data": {"name": "pts"}, "mark": {"type": "circle", "size": 36, "color": "#8c8c8c", "opacity": 0.8, "clip": true}, "encoding": {"y": {"field": "y", "type": "quantitative", "scale": {"domain": [-4.49, 4.49], "nice": false, "zero": false}, "axis": {"values": [-4, -3, -2, -1, 0, 1, 2, 3, 4], "tickSize": 0, "labelPadding": 4, "title": null}}}}
]
},
{
"width": 30, "height": 529,
"layer": [
{"data": {"name": "bar"}, "mark": {"type": "rect"}, "encoding": {"y": {"field": "lo", "type": "quantitative", "scale": {"domain": [-0.173, 2.142], "nice": false, "zero": false}, "axis": {"orient": "right", "values": [0, 0.5, 1, 1.5, 2], "format": "~g", "tickSize": 0, "labelPadding": 3, "title": null}}, "y2": {"field": "hi"}, "color": {"field": "lv", "type": "ordinal", "scale": {"domain": [-1, 0, 1, 2, 3, 4, 5, 6, 7, 8, 9, 10], "range": ["#083876", "#084b93", "#1663aa", "#2a7aba", "#4191c6", "#5fa6d1", "#80badb", "#a3cce3", "#c0d8ed", "#d4e4f4", "#e5eff9", "#f3f9fe"]}, "legend": null}}},
{"data": {"name": "box"}, "mark": {"type": "rect", "filled": false, "stroke": "#444", "strokeWidth": 1}, "encoding": {"y": {"field": "lo", "type": "quantitative", "title": null}, "y2": {"field": "hi"}}}
]
}
]
}
